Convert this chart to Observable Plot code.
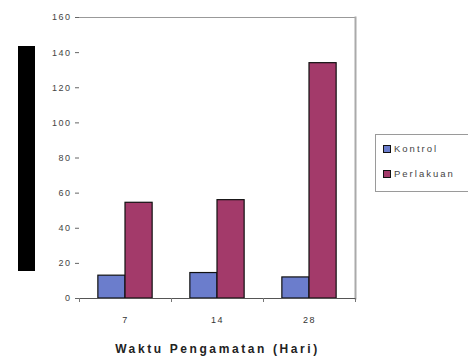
<!DOCTYPE html>
<html>
<head>
<meta charset="utf-8">
<script src="https://cdn.jsdelivr.net/npm/d3@7"></script>
<script src="https://cdn.jsdelivr.net/npm/@observablehq/plot@0.6"></script>
<style>
  html, body { margin: 0; padding: 0; background: #fff; }
  #wrap { position: relative; width: 468px; height: 360px; font-family: "Liberation Sans", Arial, sans-serif; }
  #ylabel-block { position: absolute; left: 18px; top: 46px; width: 17px; height: 225px; background: #000; }
  #legend { position: absolute; left: 375px; top: 134px; width: 93px; height: 58px; box-sizing: border-box;
            border: 1px solid #9a9a9a; border-right: none; background: #fff; font-size: 9.5px; color: #444;
            letter-spacing: 2px; }
  .item { position: absolute; left: 7px; display: flex; align-items: center; }
  .sw { width: 6px; height: 6px; border: 1px solid #111; margin-right: 3px; }
</style>
</head>
<body>
<div id="wrap">
  <div id="chart"></div>
  <div id="ylabel-block"></div>
  <div id="legend"></div>
</div>
<script>
// Observation days (x categories)
const hari = ["7", "14", "28"];
// Series values per day
const kontrol = [13, 14.5, 12];
const perlakuan = [54.5, 56, 134];
// Series names and colours
const seri = ["Kontrol", "Perlakuan"];
const warna = ["#6b7dcc", "#a33a6a"];
const yTicks = [0, 20, 40, 60, 80, 100, 120, 140, 160];

const rows = hari.flatMap((h, i) => [
  {hari: h, seri: seri[0], nilai: kontrol[i]},
  {hari: h, seri: seri[1], nilai: perlakuan[i]}
]);

const W = 468, H = 360;
const mL = 79, mR = 113, mT = 17, mB = 62;
const band = (W - mL - mR) / hari.length;   // width of one category band
const barW = band * 0.295;                  // each bar width
const outer = (band - 2 * barW) / 2;

const chart = Plot.plot({
  width: W,
  height: H,
  marginLeft: mL,
  marginRight: mR,
  marginTop: mT,
  marginBottom: mB,
  style: {fontFamily: "Liberation Sans, Arial, sans-serif", fontSize: "8px", color: "#333", background: "#fff"},
  x: {domain: hari, padding: 0, label: null},
  y: {domain: [0, 160], ticks: yTicks, label: null},
  color: {domain: seri, range: warna},
  marks: [
    // plot-area border (top and right)
    Plot.frame({anchor: "top", stroke: "#999"}),
    Plot.frame({anchor: "right", stroke: "#aaa", strokeWidth: 2}),
    Plot.barY(rows.filter(d => d.seri === seri[0]), {
      x: "hari", y: "nilai", fill: "seri", stroke: "#111", strokeWidth: 1.2,
      insetLeft: outer, insetRight: outer + barW
    }),
    Plot.barY(rows.filter(d => d.seri === seri[1]), {
      x: "hari", y: "nilai", fill: "seri", stroke: "#111", strokeWidth: 1.2,
      insetLeft: outer + barW, insetRight: outer
    }),
    Plot.axisY({ticks: yTicks, tickSize: 4, tickPadding: 4, stroke: "#666", fill: "#444", fontSize: 9}),
    Plot.ruleX([0], {frameAnchor: "left", stroke: "#666"}),
    Plot.ruleY([0], {stroke: "#555"}),
    // category separators under the axis
    Plot.axisX({tickSize: 4, dx: -band / 2, tickFormat: () => "", stroke: "#777"}),
    Plot.axisX({ticks: [hari[hari.length - 1]], tickSize: 4, dx: band / 2, tickFormat: () => "", stroke: "#777"}),
    Plot.axisX({tickSize: 0, tickPadding: 18, fill: "#333", fontSize: 9,
      label: "Waktu Pengamatan (Hari)", labelAnchor: "center", labelArrow: "none", labelOffset: 54})
  ]
});
document.getElementById("chart").appendChild(chart);

// Wide letter spacing on tick labels, bold axis title
d3.select(chart).selectAll("[aria-label='y-axis tick label'] text, [aria-label='x-axis tick label'] text")
  .style("letter-spacing", "1.5px");
d3.select(chart).selectAll("[aria-label='x-axis label'] text")
  .attr("font-weight", "bold").attr("font-size", 12).attr("fill", "#222")
  .style("letter-spacing", "2.6px");

// Legend
const legend = document.getElementById("legend");
seri.forEach((s, i) => {
  const it = document.createElement("div");
  it.className = "item";
  it.style.top = (8 + i * 25) + "px";
  it.innerHTML = `<span class="sw" style="background:${warna[i]}"></span><span>${s}</span>`;
  legend.appendChild(it);
});
</script>
</body>
</html>
